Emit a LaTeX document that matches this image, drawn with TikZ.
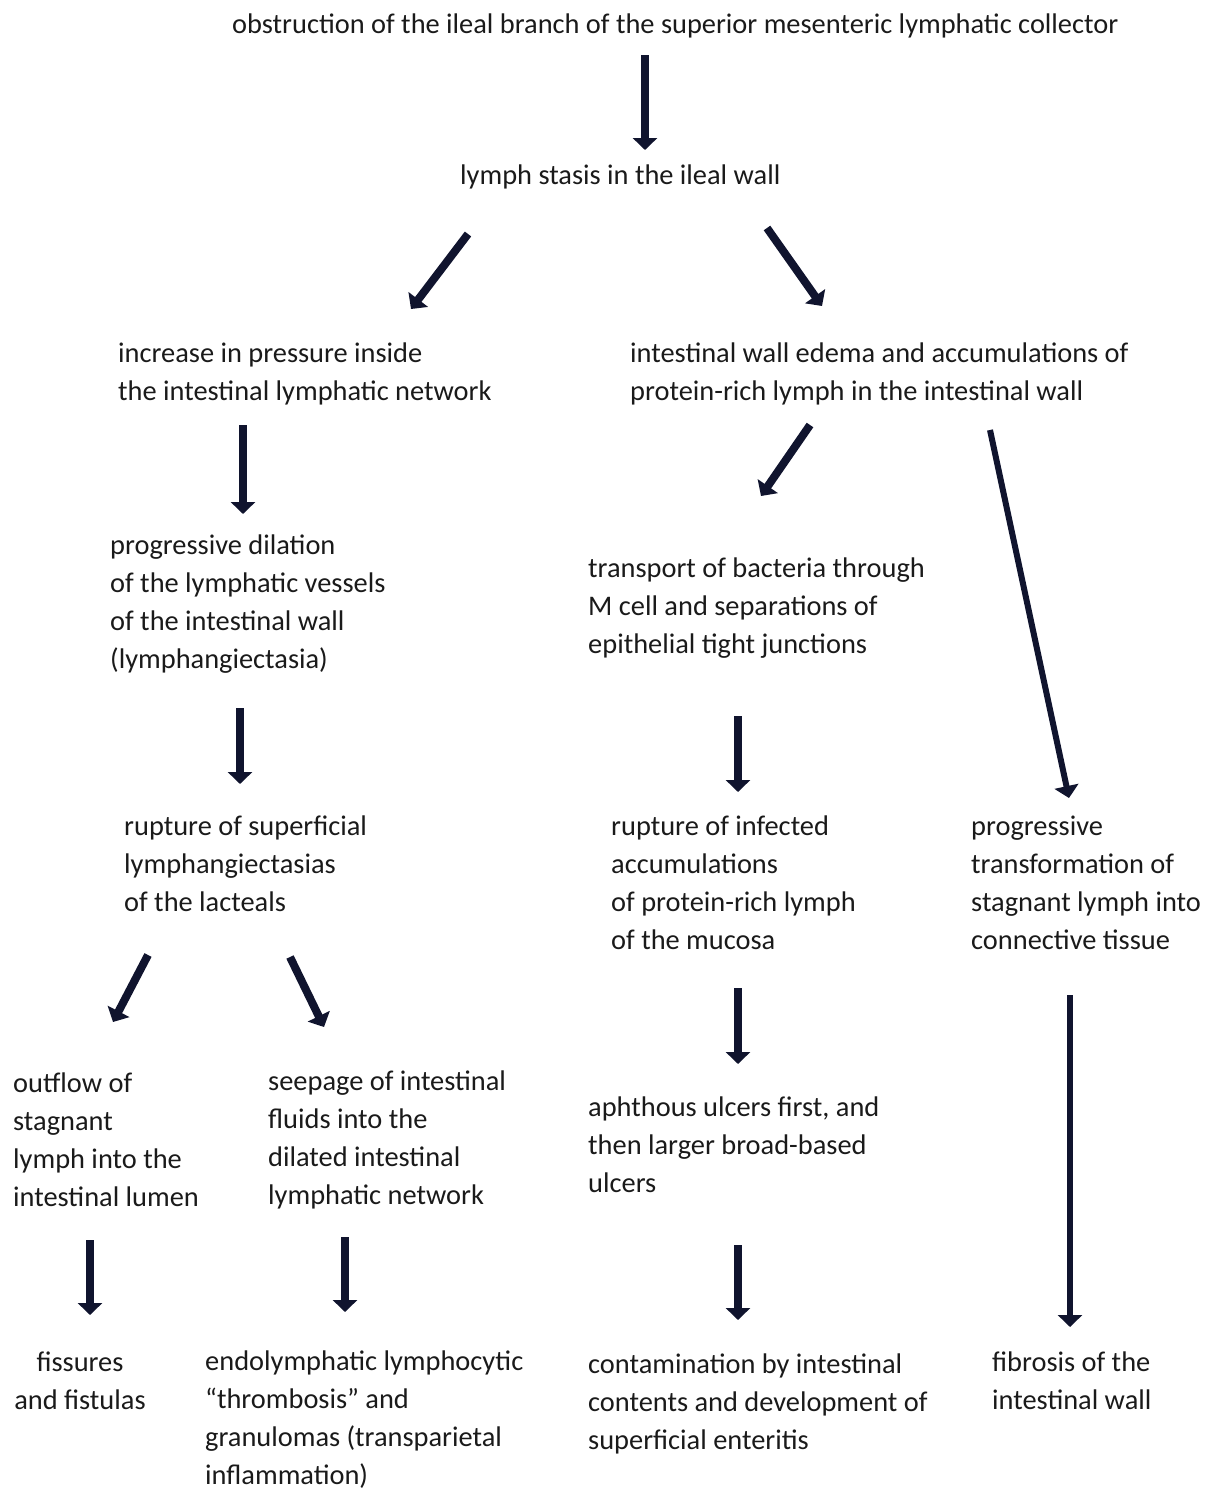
\documentclass[tikz,border=0pt]{standalone}
\usepackage{fontspec}
\setmainfont{Carlito}
\usetikzlibrary{arrows.meta}
\definecolor{arrowNavy}{HTML}{10142E}
\definecolor{textDark}{HTML}{1A1A1A}

\begin{document}
\begin{tikzpicture}[x=1pt, y=-1pt,
    txt/.style={anchor=base west, inner sep=0pt, align=left,
                font=\fontsize{28.4}{38}\selectfont, text=textDark},
    arr/.style={draw=arrowNavy, line width=8pt,
                -{Triangle[length=12pt, width=24pt]}},
    arrlong/.style={arr, line width=6pt},
  ]
    \useasboundingbox (0,0) rectangle (1210,1492);

    % Top of the chain
    \node[txt] (obstr) at (232, 33) {obstruction of the ileal branch of the superior mesenteric lymphatic collector};
    \node[txt] (stasis) at (460, 184) {lymph stasis in the ileal wall};

    % Second level
    \node[txt] (pressure) at (118, 400) {increase in pressure inside\\the intestinal lymphatic network};
    \node[txt] (edema) at (630, 400) {intestinal wall edema and accumulations of\\protein-rich lymph in the intestinal wall};

    % Left branch
    \node[txt] (dilation) at (110, 668) {progressive dilation\\of the lymphatic vessels\\of the intestinal wall\\(lymphangiectasia)};
    \node[txt] (rupsup) at (124, 911) {rupture of superficial\\lymphangiectasias\\of the lacteals};
    \node[txt] (outflow) at (13, 1206) {outflow of\\stagnant\\lymph into the\\intestinal lumen};
    \node[txt] (seepage) at (268, 1204) {seepage of intestinal\\fluids into the\\dilated intestinal\\lymphatic network};
    \node[txt, align=center, anchor=base] (fissures) at (80, 1409) {fissures\\and fistulas};
    \node[txt] (thromb) at (205, 1484) {endolymphatic lymphocytic\\\textquotedblleft thrombosis\textquotedblright\ and\\granulomas (transparietal\\inflammation)};

    % Middle branch
    \node[txt] (transport) at (588, 653) {transport of bacteria through\\M cell and separations of\\epithelial tight junctions};
    \node[txt] (rupinf) at (611, 949) {rupture of infected\\accumulations\\of protein-rich lymph\\of the mucosa};
    \node[txt] (ulcers) at (588, 1192) {aphthous ulcers first, and\\then larger broad-based\\ulcers};
    \node[txt] (contam) at (588, 1449) {contamination by intestinal\\contents and development of\\superficial enteritis};

    % Right branch
    \node[txt] (transf) at (971, 949) {progressive\\transformation of\\stagnant lymph into\\connective tissue};
    \node[txt] (fibrosis) at (992, 1409) {fibrosis of the\\intestinal wall};

    % Arrow ends
    \coordinate (a1) at (645, 55);   \coordinate (b1) at (645, 150);
    \coordinate (a2) at (468, 234);  \coordinate (b2) at (411, 309);
    \coordinate (a3) at (767, 228);  \coordinate (b3) at (822, 306);
    \coordinate (a4) at (243, 425);  \coordinate (b4) at (243, 514);
    \coordinate (a5) at (810, 425);  \coordinate (b5) at (761, 496);
    \coordinate (a6) at (990, 430);  \coordinate (b6) at (1069, 798);
    \coordinate (a7) at (240, 708);  \coordinate (b7) at (240, 784);
    \coordinate (a8) at (738, 716);  \coordinate (b8) at (738, 792);
    \coordinate (a9) at (148, 955);  \coordinate (b9) at (113, 1022);
    \coordinate (a10) at (290, 957); \coordinate (b10) at (324, 1027);
    \coordinate (a11) at (738, 988); \coordinate (b11) at (738, 1064);
    \coordinate (a12) at (90, 1240); \coordinate (b12) at (90, 1315);
    \coordinate (a13) at (345, 1237); \coordinate (b13) at (345, 1312);
    \coordinate (a14) at (738, 1245); \coordinate (b14) at (738, 1320);
    \coordinate (a15) at (1070, 995); \coordinate (b15) at (1070, 1327);

    % Arrows
    \foreach \i in {1,2,3,4,5,7,8,9,10,11,12,13,14}
      \draw[arr] (a\i) -- (b\i);
    \draw[arrlong] (a6) -- (b6);
    \draw[arrlong] (a15) -- (b15);
  \end{tikzpicture}
\end{document}
